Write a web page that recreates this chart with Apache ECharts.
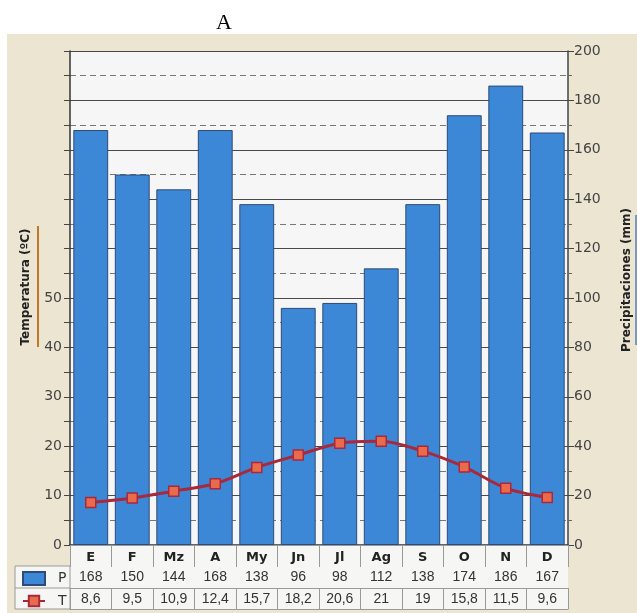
<!DOCTYPE html>
<html>
<head>
<meta charset="utf-8">
<script src="https://cdn.jsdelivr.net/npm/echarts@6/dist/echarts.min.js"></script>
<style>html,body{margin:0;padding:0;background:#fff}#c{width:637px;height:613px}</style>
</head>
<body>
<div id="c"></div>
<script>
const months = ['E','F','Mz','A','My','Jn','Jl','Ag','S','O','N','D'];
const precip = [168,150,144,168,138,96,98,112,138,174,186,167];
const temp = [8.6,9.5,10.9,12.4,15.7,18.2,20.6,21,19,15.8,11.5,9.6];
const tempTicks = [0,10,20,30,40,50];
const precipTicks = [0,20,40,60,80,100,120,140,160,180,200];

const chart = echarts.init(document.getElementById('c'));
const fmtT = v => String(v).replace('.', ',');
const tableLine = {color:'#9a9a9a', width:1};

chart.setOption({
  backgroundColor:'#ffffff',
  animation:false,
  graphic:[
    {type:'rect', z:-20, shape:{x:7,y:34,width:630,height:579}, style:{fill:'#ece5d2'}},
    {type:'rect', z:-10, shape:{x:70,y:545,width:498,height:64}, style:{fill:'#f6f6f4'}},
    {type:'rect', z:-10, shape:{x:15,y:566,width:55,height:43}, style:{fill:'#f6f6f4', stroke:'#9a9a9a', lineWidth:1}},
    {type:'line', z:-9, shape:{x1:15,y1:588,x2:70,y2:588}, style:{stroke:'#9a9a9a', lineWidth:1}},
    {type:'text', x:224, y:23, style:{text:'A', textAlign:'center', textVerticalAlign:'middle', font:'22px "Liberation Serif"', fill:'#000'}},
    {type:'text', rotation:Math.PI/2, x:26, y:287, style:{text:'Temperatura (ºC)', textAlign:'center', textVerticalAlign:'middle', font:'bold 12px "DejaVu Sans"', fill:'#222'}},
    {type:'line', shape:{x1:38,y1:226,x2:38,y2:347}, style:{stroke:'#c0772a', lineWidth:2}},
    {type:'text', rotation:Math.PI/2, x:627, y:280, style:{text:'Precipitaciones (mm)', textAlign:'center', textVerticalAlign:'middle', font:'bold 12px "DejaVu Sans"', fill:'#222'}},
    {type:'line', shape:{x1:636,y1:215,x2:636,y2:345}, style:{stroke:'#7f97b2', lineWidth:2}}
  ],
  legend:{
    orient:'vertical', left:22, top:571, padding:0, itemGap:8, itemWidth:22, itemHeight:13,
    textStyle:{fontSize:14, color:'#333', fontFamily:'DejaVu Sans', padding:[0,0,0,8]},
    data:[{name:'P', icon:'rect'}, {name:'T'}]
  },
  grid:{left:70, right:69, top:51, bottom:68, show:true, backgroundColor:'#f6f6f6', borderWidth:0},
  xAxis:[
    {type:'category', data:months, position:'bottom', offset:0,
     axisLine:{lineStyle:{color:'#333', width:1.5}},
     axisTick:{show:true, length:21, alignWithLabel:false, interval:0, lineStyle:tableLine},
     axisLabel:{interval:0, margin:6, fontWeight:'bold', fontSize:13, color:'#222', fontFamily:'DejaVu Sans'}},
    {type:'category', data:months, position:'bottom', offset:21,
     axisLine:{lineStyle:tableLine},
     axisTick:{show:true, length:22, alignWithLabel:false, interval:0, lineStyle:tableLine},
     axisLabel:{interval:0, margin:4, fontSize:14, color:'#333', fontFamily:'Liberation Sans Narrow, Liberation Sans', formatter:(v,i)=>String(precip[i])}},
    {type:'category', data:months, position:'bottom', offset:43,
     axisLine:{lineStyle:tableLine},
     axisTick:{show:true, length:21, alignWithLabel:false, interval:0, lineStyle:tableLine},
     axisLabel:{interval:0, margin:4, fontSize:14, color:'#333', fontFamily:'Liberation Sans Narrow, Liberation Sans', formatter:(v,i)=>fmtT(temp[i])}},
    {type:'category', data:months, position:'bottom', offset:64,
     axisLine:{lineStyle:tableLine}, axisTick:{show:false}, axisLabel:{show:false}}
  ],
  yAxis:[
    {type:'value', position:'left', min:0, max:100, interval:5,
     axisLine:{show:true, lineStyle:{color:'#333', width:1.5}},
     axisTick:{show:true, length:6, lineStyle:{color:'#444'}},
     splitLine:{show:false},
     axisLabel:{margin:8, fontSize:14, color:'#444', fontFamily:'DejaVu Sans',
       formatter:v=>tempTicks.includes(v)?String(v):''}},
    {type:'value', position:'right', min:0, max:200, interval:20,
     axisLine:{show:true, lineStyle:{color:'#444', width:1.5}},
     axisTick:{show:true, length:6, lineStyle:{color:'#444'}},
     minorTick:{show:true, splitNumber:2, length:4, lineStyle:{color:'#666'}},
     splitLine:{show:true, lineStyle:{color:'#4a4a4a', width:1}},
     minorSplitLine:{show:true, lineStyle:{color:'#777', type:[6,4], width:1}},
     axisLabel:{margin:6, fontSize:14, color:'#444', fontFamily:'DejaVu Sans',
       formatter:v=>precipTicks.includes(v)?String(v):''}}
  ],
  series:[
    {name:'P', type:'bar', xAxisIndex:0, yAxisIndex:1, data:precip, barCategoryGap:'16%',
     itemStyle:{color:'#3c88d6', borderColor:'#2d4a78', borderWidth:1}},
    {name:'T', type:'line', xAxisIndex:0, yAxisIndex:0, data:temp, smooth:0.3,
     symbol:'rect', symbolSize:10,
     lineStyle:{color:'#a8283c', width:3},
     itemStyle:{color:'#ea6a4c', borderColor:'#a8283c', borderWidth:1.5}, z:5}
  ]
});
</script>
</body>
</html>
